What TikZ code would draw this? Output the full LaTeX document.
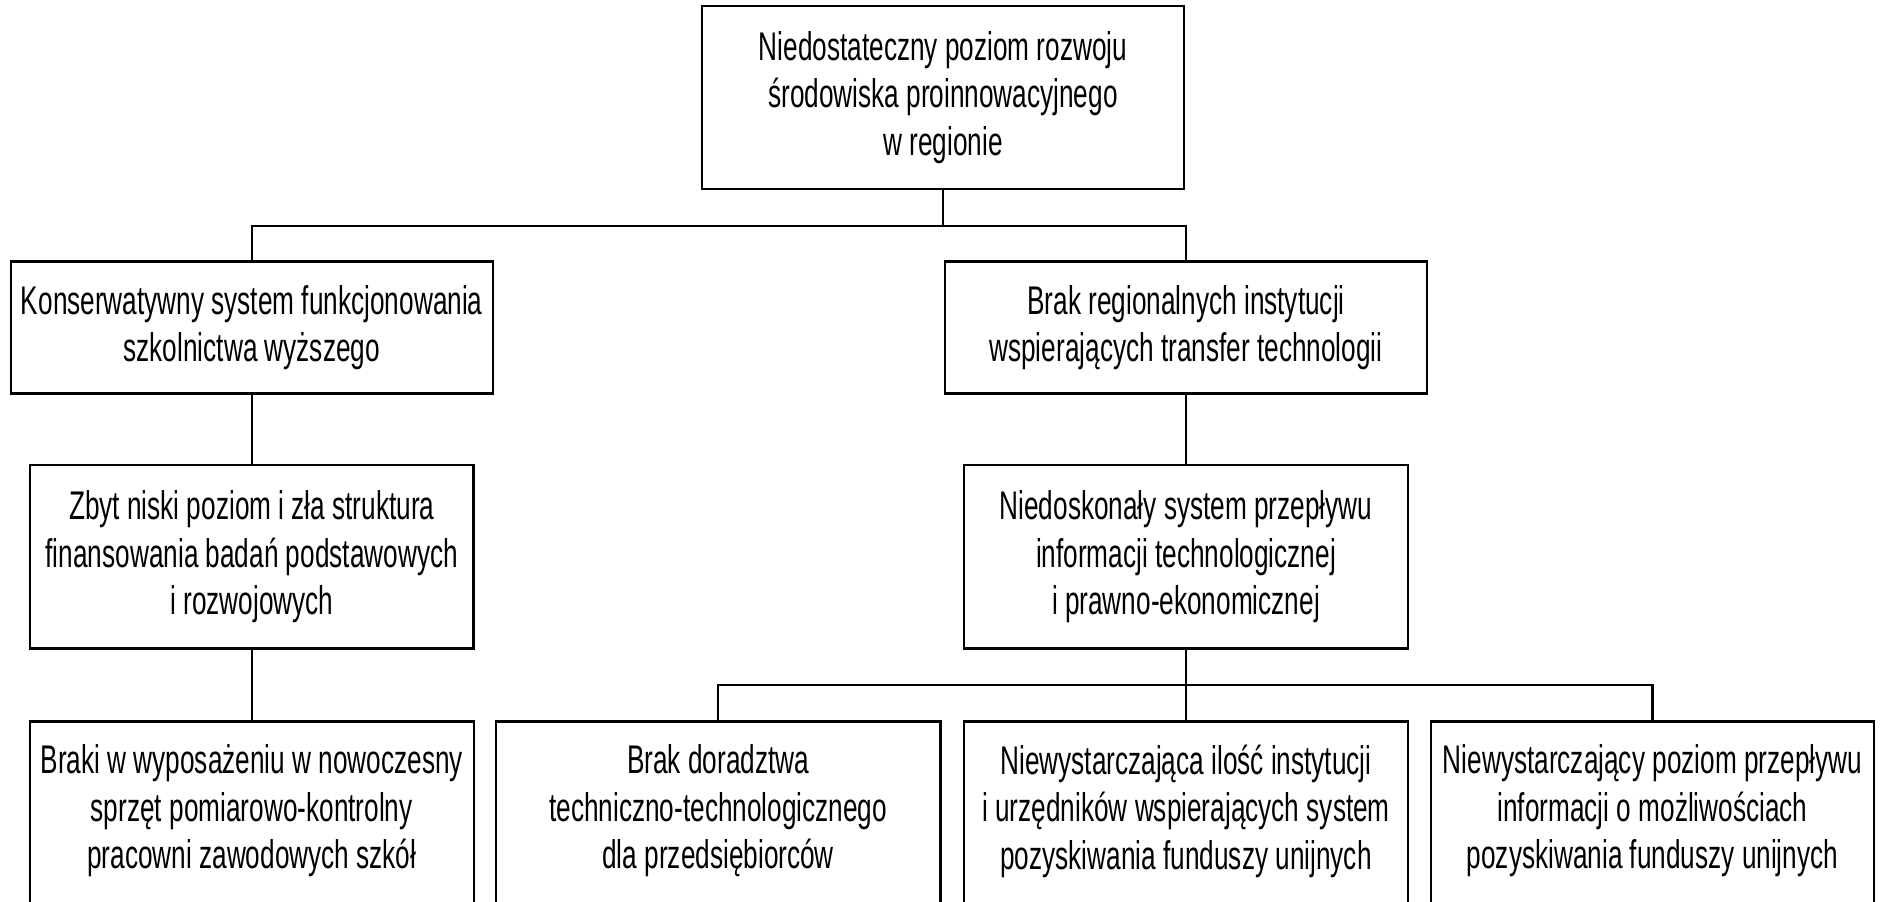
\documentclass[tikz,border=0pt]{standalone}
\usepackage{fontspec}
\setmainfont{Liberation Sans}[FakeStretch=0.655]
\begin{document}
\begin{tikzpicture}[x=1pt,y=-1pt,
  box/.style={draw=black, line width=2.5pt, inner sep=0pt, align=center,
              font=\fontsize{40}{47.5}\selectfont, fill=white},
  txt/.style={inner sep=0pt, align=center, font=\fontsize{40}{47.5}\selectfont},
  link/.style={draw=black, line width=2.3pt}]
\useasboundingbox (0,0) rectangle (1880,902);
\fill[white] (0,0) rectangle (1880,902);

% level 1
\node[box, minimum width=482pt, minimum height=183.3pt] (top) at (943,97.4)
  {Niedostateczny poziom rozwoju\\środowiska proinnowacyjnego\\w regionie};

% level 2
\node[box, minimum width=482pt, minimum height=131.6pt] (k2) at (251.8,327.5)
  {Konserwatywny system funkcjonowania\\szkolnictwa wyższego};
\node[box, minimum width=482.4pt, minimum height=131.6pt] (b2) at (1186,327.5)
  {Brak regionalnych instytucji\\wspierających transfer technologii};

% level 3
\node[box, minimum width=443.3pt, minimum height=183.3pt] (k3) at (251.8,556.7)
  {Zbyt niski poziom i zła struktura\\finansowania badań podstawowych\\i rozwojowych};
\node[box, minimum width=444pt, minimum height=183.3pt] (b3) at (1186,556.7)
  {Niedoskonały system przepływu\\informacji technologicznej\\i prawno-ekonomicznej};

% level 4 (boxes run past the bottom edge)
\node[box, anchor=north, minimum width=444pt, minimum height=260pt] (d1) at (251.8,720) {};
\node[box, anchor=north, minimum width=444.8pt, minimum height=260pt] (d2) at (718.2,720) {};
\node[box, anchor=north, minimum width=444pt, minimum height=260pt] (d3) at (1186,720) {};
\node[box, anchor=north, minimum width=443pt, minimum height=260pt] (d4) at (1652.5,720) {};

\node[txt] (t1) at (251.8,811)
  {Braki w wyposażeniu w nowoczesny\\sprzęt pomiarowo-kontrolny\\pracowni zawodowych szkół};
\node[txt] (t2) at (718.2,811)
  {Brak doradztwa\\techniczno-technologicznego\\dla przedsiębiorców};
\node[txt] (t3) at (1186,811)
  {Niewystarczająca ilość instytucji\\i urzędników wspierających system\\pozyskiwania funduszy unijnych};
\node[txt] (t4) at (1652.5,811)
  {Niewystarczający poziom przepływu\\informacji o możliwościach\\pozyskiwania funduszy unijnych};

% connectors
\coordinate (j1) at (943,225.7);
\coordinate (j2) at (1186,685);
\draw[link] (top.south) -- (j1);
\draw[link] (k2.north) |- (j1) -| (b2.north);
\draw[link] (k2.south) -- (k3.north);
\draw[link] (b2.south) -- (b3.north);
\draw[link] (k3.south) -- (d1.north);
\draw[link] (b3.south) -- (d3.north);
\draw[link] (d2.north) |- (j2) -| (d4.north);
\end{tikzpicture}
\end{document}
